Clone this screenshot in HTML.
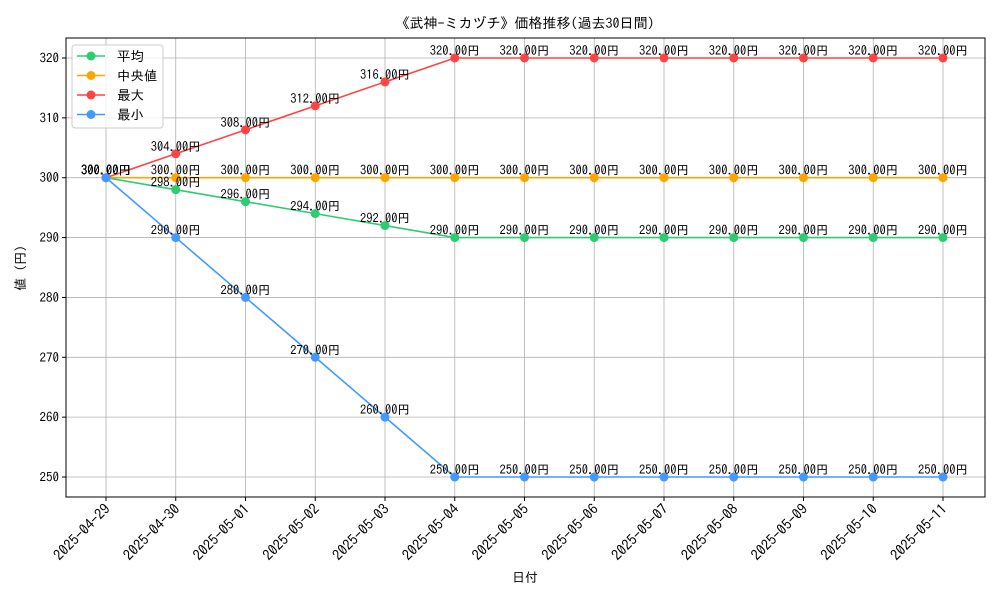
<!DOCTYPE html>
<html><head><meta charset="utf-8"><style>
body{margin:0;background:#fff}
svg text{font-family:"IPAGothic","Liberation Sans","Noto Sans CJK JP",sans-serif;fill:#000}
</style></head><body>
<svg id="c" width="1000" height="600" xmlns="http://www.w3.org/2000/svg"></svg>
<script>
const dates=["2025-04-29","2025-04-30","2025-05-01","2025-05-02","2025-05-03","2025-05-04","2025-05-05","2025-05-06","2025-05-07","2025-05-08","2025-05-09","2025-05-10","2025-05-11"];
const avgVals=[300,298,296,294,292,290,290,290,290,290,290,290,290];
const medVals=[300,300,300,300,300,300,300,300,300,300,300,300,300];
const maxVals=[300,304,308,312,316,320,320,320,320,320,320,320,320];
const minVals=[300,290,280,270,260,250,250,250,250,250,250,250,250];
const yTicks=[250,260,270,280,290,300,310,320];
const seriesNames=["平均","中央値","最大","最小"];
const NS="http://www.w3.org/2000/svg";
const svg=document.getElementById('c');
const L=66,R=985,T=38,B=497;
const x0=106,dx=(943-106)/12;
const yMin=246.66,yMax=323.34;
function X(i){return x0+i*dx;}
function Y(v){return B-(v-yMin)/(yMax-yMin)*(B-T);}
function el(t,a,txt){const e=document.createElementNS(NS,t);for(const k in a)e.setAttribute(k,a[k]);if(txt!==undefined)e.textContent=txt;svg.appendChild(e);return e;}
let e=el('text',{x:525,y:28,'text-anchor':'middle','font-size':14},'《武神-ミカヅチ》価格推移(過去30日間)');


dates.forEach((d,i)=>{
 let g=el('line',{x1:X(i),x2:X(i),y1:T,y2:B,stroke:'#b0b0b0','stroke-width':0.8});
 
 
 let tk=el('line',{x1:X(i),x2:X(i),y1:B,y2:B+4,stroke:'#000'});
 
 
 let t=el('text',{x:0,y:0,'text-anchor':'end','font-size':14.5,transform:`translate(${X(i)+5},${B+13}) rotate(-45)`},d);
 
 
});
yTicks.forEach(v=>{
 let g=el('line',{x1:L,x2:R,y1:Y(v),y2:Y(v),stroke:'#b0b0b0','stroke-width':0.8});
 
 
 let tk=el('line',{x1:L-4,x2:L,y1:Y(v),y2:Y(v),stroke:'#000'});
 
 
 let t=el('text',{x:L-7,y:Y(v)+4.5,'text-anchor':'end','font-size':13},String(v));
 
 
});
let fr=el('rect',{x:L,y:T,width:R-L,height:B-T,fill:'none',stroke:'#000','stroke-width':1});


e=el('text',{x:525,y:582,'text-anchor':'middle','font-size':13},'日付');


e=el('text',{x:0,y:0,'text-anchor':'middle','font-size':13,transform:'translate(25,268) rotate(-90)'},'値 (円)');


const series=[[avgVals,'#2ecc71','avg'],[medVals,'#ffa500','median'],[maxVals,'#ff4444','max'],[minVals,'#4499ff','min']];
series.forEach(([vals,col,key])=>{
 let p=el('polyline',{points:vals.map((v,i)=>X(i)+','+Y(v)).join(' '),fill:'none',stroke:col,'stroke-width':1.6});
 
 
 vals.forEach((v,i)=>{
  let c=el('circle',{cx:X(i),cy:Y(v),r:4.5,fill:col});
  
  
 });
});
series.forEach(([vals,col,key])=>{
 vals.forEach((v,i)=>{
  let t=el('text',{x:X(i),y:Y(v)-3,'text-anchor':'middle','font-size':12.5},v.toFixed(2)+'円');
  
  
 });
});
let lb=el('rect',{x:72,y:45,width:91,height:83,rx:3,fill:'#fff','fill-opacity':0.8,stroke:'#ccc'});


series.forEach(([vals,col,key],k)=>{
 const yy=56+k*19.5;
 let l=el('line',{x1:77,x2:105,y1:yy,y2:yy,stroke:col,'stroke-width':1.6});
 
 
 let c=el('circle',{cx:91,cy:yy,r:4.5,fill:col});
 
 
 let t=el('text',{x:117,y:yy+5,'font-size':13.5},seriesNames[k]);
 
 
});
</script>
</body></html>
